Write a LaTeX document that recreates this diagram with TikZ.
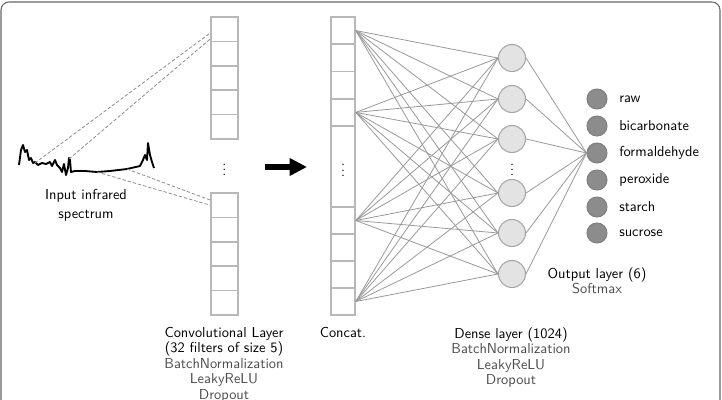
\documentclass[tikz,border=0pt]{standalone}
\usepackage{xcolor}
\usepackage{tikz}
\usetikzlibrary{arrows.meta,positioning}

\colorlet{subtext}{black!70}
\tikzset{
    convcell/.style={draw=black!28, line width=1.2pt, minimum width=20.25pt, minimum height=18.3pt, inner sep=0pt},
    catcell/.style={draw=black!28, line width=1.2pt, minimum width=18pt, minimum height=20.4pt, inner sep=0pt},
    dense/.style={circle, draw=black!35, fill=black!11, line width=0.8pt, minimum size=20.25pt, inner sep=0pt},
    outnode/.style={circle, draw=black!50, fill=black!45, line width=0.8pt, minimum size=15pt, inner sep=0pt},
    link/.style={black!40, line width=0.6pt},
    dashlink/.style={black!45, dashed, dash pattern=on 2.5pt off 1.5pt, line width=0.6pt},
    spectrum/.style={black, line width=1.4pt, line join=round},
    caption/.style={align=center, inner sep=0pt},
    dots/.style={inner sep=0pt},
}

\begin{document}
\begin{tikzpicture}[x=0.75pt, y=-0.75pt, font=\sffamily\fontsize{10.8}{11.6}\selectfont]
    \useasboundingbox (0,0) rectangle (722,400);
    \draw[rounded corners=6pt, black!60, line width=0.8pt] (1,2) rectangle (720,440);

    % input spectrum
    \draw[spectrum] plot coordinates {(19,165) (21,150) (23,145) (25,152) (27,150) (29,160) (31,158) (33,163) (35,162) (38,165) (42,163) (46,164) (50,162) (52,166) (55,160) (57,165) (60,168) (62,172) (64,164) (66,175) (68,168) (69,158) (70,160) (71,172) (75,171) (85,171) (97,172) (110,171) (127,169) (140,166) (143,160) (145,155) (147,160) (148,143) (150,155) (152,162) (154,168)};
    \coordinate (s1) at (35,163);
    \coordinate (s2) at (69,159);
    \coordinate (s3) at (97,172);
    \coordinate (s4) at (127,169);
    \node[caption, font=\sffamily\fontsize{10.8}{14}\selectfont] (inlabel) at (86,205) {Input infrared\\spectrum};

    % convolutional layer
    \foreach \i/\y in {1/29.2,2/53.6,3/78,4/102.4,5/126.8,6/205.2,7/229.6,8/254,9/278.4,10/302.8}
        \node[convcell] (c\i) at (224.5,\y) {};
    \node[dots] (cdots) at (224.5,166) {$\vdots$};
    \draw[dashlink] (s1) -- ([yshift=-2.85pt]c1.west);
    \draw[dashlink] (s2) -- ([yshift=-7.35pt]c1.west);
    \draw[dashlink] (s3) -- (c6.west);
    \draw[dashlink] (s4) -- ([yshift=3.9pt]c6.west);
    \node[caption, anchor=north] (convlabel) at (224,327) {Convolutional Layer\\(32 filters of size 5)\\\textcolor{subtext}{BatchNormalization}\\\textcolor{subtext}{LeakyReLU}\\\textcolor{subtext}{Dropout}};

    % arrow between the blocks
    \coordinate (a1) at (265,167);
    \coordinate (a2) at (307,167);
    \draw[line width=4.5pt, -{Triangle[length=13pt, width=12.5pt]}] (a1) -- (a2);

    % concatenation
    \foreach \i/\y in {1/30.6,2/57.9,3/85.1,4/112.4,6/220.5,7/247.5,8/274.5,9/301.5}
        \node[catcell] (k\i) at (343,\y) {};
    \node[catcell, minimum height=60.75pt] (k5) at (343,166.5) {$\vdots$};
    \node[caption, anchor=north] (catlabel) at (343,327) {Concat.};

    % dense layer
    \foreach \i/\y in {1/58,2/99,3/139,4/193,5/233,6/274}
        \node[dense] (d\i) at (512,\y) {};
    \node[dots] (ddots) at (512,166) {$\vdots$};
    \foreach \k in {1,4,6,9}
        \foreach \d in {1,...,6}
            \draw[link] (k\k.east) -- (d\d.west);
    \node[caption, anchor=north] (denselabel) at (511,327) {Dense layer (1024)\\\textcolor{subtext}{BatchNormalization}\\\textcolor{subtext}{LeakyReLU}\\\textcolor{subtext}{Dropout}};

    % output layer
    \foreach \i/\y/\t in {1/99/raw,2/126/bicarbonate,3/153/formaldehyde,4/180/peroxide,5/207/starch,6/233/sucrose} {
        \node[outnode] (o\i) at (597,\y) {};
        \node[anchor=west, inner sep=0pt] (t\i) at (619,\y) {\t};
    }
    \foreach \d in {1,...,6}
        \draw[link] (d\d.east) -- (o3.west);
    \node[caption, anchor=north] (outlabel) at (597,267) {Output layer (6)\\\textcolor{subtext}{Softmax}};
\end{tikzpicture}
\end{document}
